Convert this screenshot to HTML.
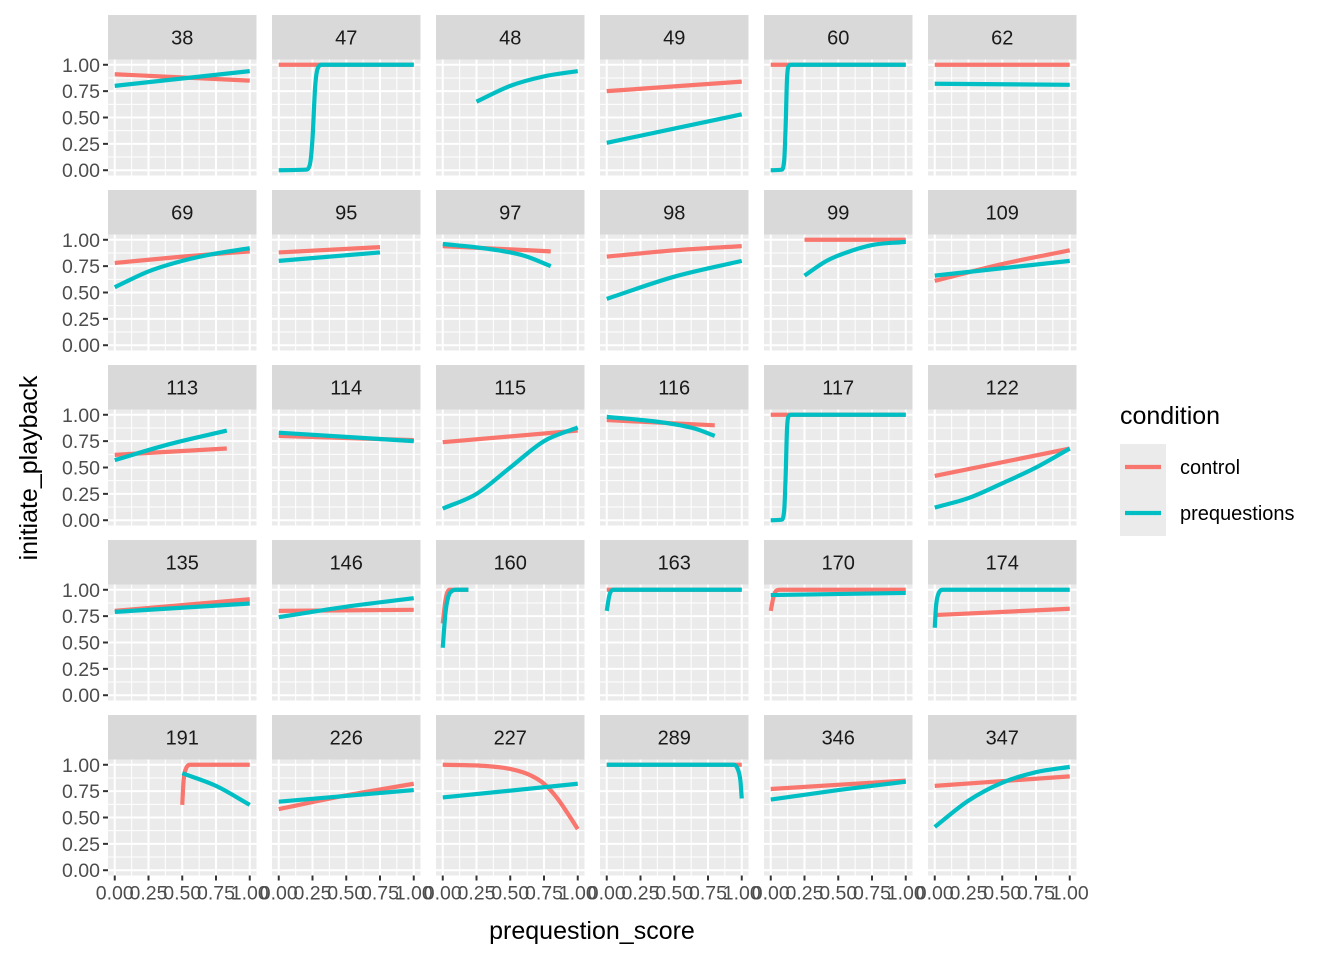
<!DOCTYPE html>
<html><head><meta charset="utf-8"><style>
body{margin:0;background:#fff;}
svg{display:block;font-family:"Liberation Sans",Arial,sans-serif;}
</style></head><body>
<svg id="chart" width="1344" height="960" viewBox="0 0 1344 960"></svg>
<script>
const panelIds = ["38","47","48","49","60","62","69","95","97","98","99","109","113","114","115","116","117","122","135","146","160","163","170","174","191","226","227","289","346","347"];
const controlSeries = [
 [[0,0.91],[1,0.85]],
 [[0,1],[1,1]],
 [],
 [[0,0.75],[1,0.84]],
 [[0,1],[1,1]],
 [[0,1],[1,1]],
 [[0,0.78],[0.5,0.84],[1,0.89]],
 [[0,0.88],[0.75,0.93]],
 [[0,0.94],[0.8,0.89]],
 [[0,0.84],[0.5,0.9],[1,0.94]],
 [[0.25,1],[1,1]],
 [[0,0.61],[0.5,0.77],[1,0.9]],
 [[0,0.62],[0.83,0.68]],
 [[0,0.80],[1,0.76]],
 [[0,0.74],[1,0.85]],
 [[0,0.95],[0.8,0.90]],
 [[0,1],[1,1]],
 [[0,0.42],[1,0.68]],
 [[0,0.80],[1,0.91]],
 [[0,0.80],[1,0.81]],
 [[0,0.68],[0.02,0.9],[0.05,1],[0.19,1]],
 [[0,1],[1,1]],
 [[0,0.8],[0.02,0.93],[0.04,0.99],[0.07,1],[1,1]],
 [[0,0.76],[1,0.82]],
 [[0.5,0.62],[0.51,0.85],[0.53,0.97],[0.56,1],[1,1]],
 [[0,0.58],[0.5,0.71],[1,0.82]],
 [[0,1],[0.3,0.99],[0.5,0.96],[0.65,0.9],[0.75,0.82],[0.85,0.68],[0.93,0.53],[1,0.39]],
 [[0,1],[1,1]],
 [[0,0.77],[1,0.85]],
 [[0,0.80],[1,0.89]]
];
const preqSeries = [
 [[0,0.80],[1,0.94]],
 [[0,0],[0.2,0.005],[0.23,0.05],[0.25,0.3],[0.27,0.8],[0.29,0.97],[0.32,1],[1,1]],
 [[0.25,0.65],[0.5,0.8],[0.75,0.89],[1,0.94]],
 [[0,0.26],[1,0.53]],
 [[0,0],[0.08,0.005],[0.1,0.1],[0.11,0.4],[0.12,0.85],[0.13,0.98],[0.15,1],[1,1]],
 [[0,0.82],[1,0.81]],
 [[0,0.55],[0.25,0.7],[0.5,0.8],[0.75,0.87],[1,0.92]],
 [[0,0.80],[0.75,0.88]],
 [[0,0.96],[0.3,0.92],[0.6,0.85],[0.8,0.75]],
 [[0,0.44],[0.5,0.65],[1,0.80]],
 [[0.25,0.66],[0.4,0.79],[0.5,0.85],[0.75,0.95],[1,0.98]],
 [[0,0.66],[1,0.80]],
 [[0,0.57],[0.4,0.72],[0.83,0.85]],
 [[0,0.83],[1,0.75]],
 [[0,0.11],[0.25,0.25],[0.5,0.5],[0.75,0.75],[1,0.88]],
 [[0,0.98],[0.4,0.93],[0.65,0.87],[0.8,0.80]],
 [[0,0],[0.08,0.005],[0.1,0.1],[0.11,0.4],[0.12,0.85],[0.13,0.98],[0.15,1],[1,1]],
 [[0,0.12],[0.25,0.21],[0.5,0.35],[0.75,0.5],[1,0.68]],
 [[0,0.79],[1,0.87]],
 [[0,0.74],[0.5,0.84],[1,0.92]],
 [[0,0.45],[0.02,0.78],[0.04,0.93],[0.07,0.99],[0.1,1],[0.19,1]],
 [[0,0.8],[0.02,0.95],[0.05,1],[1,1]],
 [[0,0.95],[1,0.97]],
 [[0,0.64],[0.01,0.85],[0.03,0.97],[0.06,1],[1,1]],
 [[0.5,0.92],[0.75,0.8],[1,0.62]],
 [[0,0.65],[1,0.76]],
 [[0,0.69],[1,0.82]],
 [[0,1],[0.94,1],[0.97,0.96],[0.99,0.85],[1,0.68]],
 [[0,0.67],[0.5,0.76],[1,0.84]],
 [[0,0.41],[0.25,0.66],[0.5,0.83],[0.75,0.93],[1,0.98]]
];
const yTicks = [0,0.25,0.5,0.75,1];
const yTickLabels = ["0.00","0.25","0.50","0.75","1.00"];
const xTicks = [0,0.25,0.5,0.75,1];
const xTickLabels = ["0.00","0.25","0.50","0.75","1.00"];

const NS="http://www.w3.org/2000/svg";
const svg=document.getElementById('chart');
function mk(tag,attrs,parent){const e=document.createElementNS(NS,tag);for(const k in attrs)e.setAttribute(k,attrs[k]);(parent||svg).appendChild(e);return e;}
const PW=148.5, PH=116, GX=164, GY=175, X0=108, STRIP_TOP=15, STRIP_H=44.5;
const COLORS={control:"#F8766D",preq:"#00BFC4"};
function sx(col,v){return X0+col*GX+ (0.05+v)/1.1*PW;}
function sy(row,v){const top=STRIP_TOP+row*GY+STRIP_H;return top+PH-(v+0.05)/1.1*PH;}
function monoPath(P){
  const n=P.length;
  if(n<3)return P.map((p,j)=>(j?'L':'M')+p[0].toFixed(2)+','+p[1].toFixed(2)).join('');
  const d=[],m=[];
  for(let i=0;i<n-1;i++)d.push((P[i+1][1]-P[i][1])/(P[i+1][0]-P[i][0]));
  m[0]=d[0];m[n-1]=d[n-2];
  for(let i=1;i<n-1;i++)m[i]=(d[i-1]*d[i]<=0)?0:(d[i-1]+d[i])/2;
  for(let i=0;i<n-1;i++){
    if(d[i]===0){m[i]=0;m[i+1]=0;continue;}
    const a=m[i]/d[i],b=m[i+1]/d[i],s=a*a+b*b;
    if(s>9){const t=3/Math.sqrt(s);m[i]=t*a*d[i];m[i+1]=t*b*d[i];}
  }
  let s='M'+P[0][0].toFixed(2)+','+P[0][1].toFixed(2);
  for(let i=0;i<n-1;i++){
    const h=(P[i+1][0]-P[i][0])/3;
    s+='C'+(P[i][0]+h).toFixed(2)+','+(P[i][1]+m[i]*h).toFixed(2)+' '+(P[i+1][0]-h).toFixed(2)+','+(P[i+1][1]-m[i+1]*h).toFixed(2)+' '+P[i+1][0].toFixed(2)+','+P[i+1][1].toFixed(2);
  }
  return s;
}

panelIds.forEach((id,i)=>{
  const col=i%6,row=Math.floor(i/6);
  const px=X0+col*GX, st=STRIP_TOP+row*GY, pt=st+STRIP_H;
  const g=mk('g',{});
  
  
  const strip=mk('rect',{x:px,y:st,width:PW,height:STRIP_H,fill:'#D9D9D9'},g);
  
  
  const stxt=mk('text',{x:px+PW/2,y:st+STRIP_H/2+7,'text-anchor':'middle','font-size':'20',fill:'#1A1A1A'},g);
  stxt.textContent=id;
  
  
  const bg=mk('rect',{x:px,y:pt,width:PW,height:PH,fill:'#EBEBEB'},g);
  
  
  for(let k=0;k<4;k++){
    const vx=(xTicks[k]+xTicks[k+1])/2, vy=(yTicks[k]+yTicks[k+1])/2;
    mk('line',{x1:sx(col,vx),x2:sx(col,vx),y1:pt,y2:pt+PH,stroke:'#fff','stroke-width':1},g);
    mk('line',{x1:px,x2:px+PW,y1:sy(row,vy),y2:sy(row,vy),stroke:'#fff','stroke-width':1},g);
  }
  xTicks.forEach(v=>mk('line',{x1:sx(col,v),x2:sx(col,v),y1:pt,y2:pt+PH,stroke:'#fff','stroke-width':2},g));
  yTicks.forEach(v=>mk('line',{x1:px,x2:px+PW,y1:sy(row,v),y2:sy(row,v),stroke:'#fff','stroke-width':2},g));
  [[controlSeries[i],'control'],[preqSeries[i],'preq']].forEach(([pts,k])=>{
    if(!pts.length)return;
    const P=pts.map(p=>[sx(col,p[0]),sy(row,p[1])]);
    const path=mk('path',{d:monoPath(P),fill:'none',stroke:COLORS[k],'stroke-width':4.2,'stroke-linejoin':'round'},g);
    
    
  });
  if(col===0){
    yTicks.forEach((v,j)=>{
      mk('line',{x1:px-5,x2:px,y1:sy(row,v),y2:sy(row,v),stroke:'#333','stroke-width':2},g);
      const t=mk('text',{x:px-8,y:sy(row,v)+7,'text-anchor':'end','font-size':'19.5',fill:'#4D4D4D'},g);
      t.textContent=yTickLabels[j];
      
      
    });
  }
  if(row===4){
    xTicks.forEach((v,j)=>{
      mk('line',{x1:sx(col,v),x2:sx(col,v),y1:pt+PH,y2:pt+PH+5,stroke:'#333','stroke-width':2},g);
      const t=mk('text',{x:sx(col,v),y:pt+PH+24,'text-anchor':'middle','font-size':'19.5',fill:'#4D4D4D'},g);
      t.textContent=xTickLabels[j];
      
      
    });
  }
});
</script>
<script>
(function(){
const NS="http://www.w3.org/2000/svg";const svg=document.getElementById('chart');
function mk(tag,attrs){const e=document.createElementNS(NS,tag);for(const k in attrs)e.setAttribute(k,attrs[k]);svg.appendChild(e);return e;}
let t=mk('text',{x:592,y:939,'text-anchor':'middle','font-size':'25',fill:'#000'});t.textContent='prequestion_score';


t=mk('text',{x:0,y:0,'text-anchor':'middle','font-size':'25',fill:'#000',transform:'translate(37,468) rotate(-90)'});t.textContent='initiate_playback';


t=mk('text',{x:1120,y:424,'font-size':'25',fill:'#000'});t.textContent='condition';


[['control','#F8766D',444],['prequestions','#00BFC4',490]].forEach(([lab,c,y])=>{
  const r=mk('rect',{x:1120,y:y,width:46,height:46,fill:'#EBEBEB'});
  
  
  mk('line',{x1:1125,x2:1161,y1:y+23,y2:y+23,stroke:c,'stroke-width':4.2});
  const l=mk('text',{x:1180,y:y+30,'font-size':'20',fill:'#000'});l.textContent=lab;
  
  
});
})();
</script>
</body></html>
